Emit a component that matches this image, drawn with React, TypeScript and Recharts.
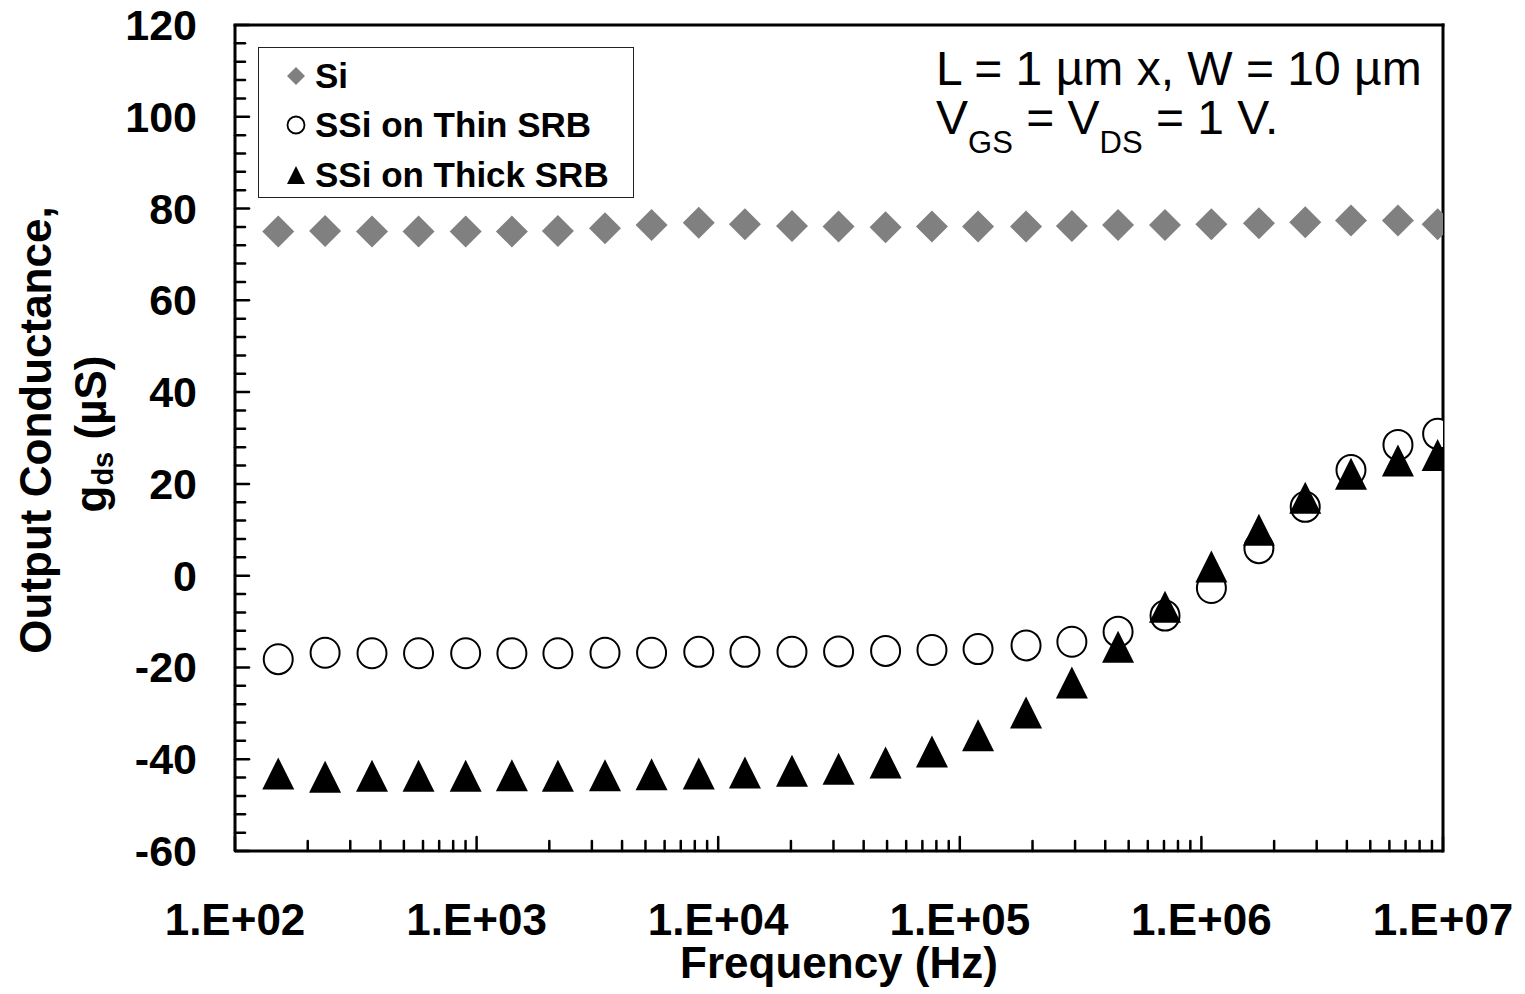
import React from 'react';
import { ScatterChart, Scatter, XAxis, YAxis, ReferenceLine, Legend } from 'recharts';

// frequency sweep (Hz)
const freqHz = [
    151, 236, 369, 575, 901, 1400, 2170, 3400, 5300, 8310, 12900, 20200, 31500,
    49300, 76700, 119000, 188000, 291000, 452000, 707000, 1100000, 1730000,
    2690000, 4160000, 6510000, 9500000,
];

// output conductance gds (uS)
const siGds = [
    75.0, 75.1, 75.0, 75.0, 75.0, 75.0, 75.1, 75.7, 76.4, 76.9, 76.6, 76.2, 76.1,
    75.9, 76.1, 76.1, 76.1, 76.2, 76.4, 76.4, 76.6, 76.8, 77.0, 77.4, 77.4, 76.6,
];
const thinSrbGds = [
    -18.2, -16.8, -16.9, -16.9, -16.9, -16.9, -16.9, -16.8, -16.8, -16.6, -16.6, -16.6, -16.5,
    -16.4, -16.2, -16.0, -15.2, -14.4, -12.2, -8.7, -2.7, 6.0, 15.0, 23.0, 28.5, 30.9,
];
const thickSrbGds = [
    -43.1, -43.8, -43.6, -43.6, -43.6, -43.5, -43.6, -43.5, -43.3, -43.1, -42.9, -42.5, -42.1,
    -40.7, -38.3, -34.8, -29.8, -23.3, -15.5, -6.8, 2.0, 10.0, 17.0, 22.2, 25.1, 26.3,
];

const seriesNames = ['Si', 'SSi on Thin SRB', 'SSi on Thick SRB'];

// axis ticks
const xDecades = [100, 1000, 10000, 100000, 1000000, 10000000];
const xMinorSteps = [2, 3, 4, 5, 6, 7, 8, 9];
const yMajorTicks = [-60, -40, -20, 0, 20, 40, 60, 80, 100, 120];
const yMinorStep = 4;

const xTicks: number[] = [];
xDecades.forEach((d, i) => {
    xTicks.push(d);
    if (i < xDecades.length - 1) xMinorSteps.forEach((m) => xTicks.push(d * m));
});
const yTicks: number[] = [];
for (let v = yMajorTicks[0]; v <= yMajorTicks[yMajorTicks.length - 1]; v += yMinorStep) yTicks.push(v);

const toPoints = (vals: number[]) => freqHz.map((f, i) => ({ f, g: vals[i] }));
const siData = toPoints(siGds);
const thinData = toPoints(thinSrbGds);
const thickData = toPoints(thickSrbGds);

const FONT = '"Liberation Sans", Arial, Helvetica, sans-serif';
const GRAY = '#808080';

const Diamond = ({ cx, cy }: any) => (
    <path d={`M${cx},${cy - 16}L${cx + 16},${cy}L${cx},${cy + 16}L${cx - 16},${cy}Z`} fill={GRAY} />
);
const Ring = ({ cx, cy }: any) => (
    <ellipse cx={cx} cy={cy} rx={14.5} ry={15} fill="#fff" stroke="#000" strokeWidth={2} />
);
const Triangle = ({ cx, cy }: any) => (
    <path d={`M${cx},${cy - 16}L${cx + 16},${cy + 16}L${cx - 16},${cy + 16}Z`} fill="#000" />
);

const isDecade = (v: number) => Math.abs(Math.log10(v) - Math.round(Math.log10(v))) < 1e-9;

const XTick = ({ x, y, payload }: any) => {
    const major = isDecade(payload.value);
    return (
        <g>
            <line x1={x} x2={x} y1={y} y2={y - (major ? 14 : 10)} stroke="#000" strokeWidth={2.5} strokeLinecap="round" />
            {major && (
                <text x={x} y={y + 84} textAnchor="middle" fontFamily={FONT} fontWeight="bold" fontSize={44} fill="#000">
                    {`1.E+${String(Math.round(Math.log10(payload.value))).padStart(2, '0')}`}
                </text>
            )}
        </g>
    );
};

const YTick = ({ x, y, payload }: any) => {
    const major = payload.value % 20 === 0;
    return (
        <g>
            <line x1={x} x2={x + (major ? 14 : 10)} y1={y} y2={y} stroke="#000" strokeWidth={2.5} strokeLinecap="round" />
            {major && (
                <text x={x - 38} y={y + 15} textAnchor="end" fontFamily={FONT} fontWeight="bold" fontSize={43} fill="#000">
                    {payload.value}
                </text>
            )}
        </g>
    );
};

const XTitle = ({ viewBox }: any) => (
    <text x={viewBox.x + viewBox.width / 2} y={viewBox.y + 127} textAnchor="middle" fontFamily={FONT} fontWeight="bold" fontSize={44} fill="#000">
        Frequency (Hz)
    </text>
);

const YTitle = () => (
    <g fontFamily={FONT} fontWeight="bold" fill="#000">
        <text transform="translate(51,430) rotate(-90)" textAnchor="middle" fontSize={44}>
            Output Conductance,
        </text>
        <text transform="translate(106,434) rotate(-90)" textAnchor="middle" fontSize={44}>
            g<tspan fontSize={29} dy={7}>ds</tspan>
            <tspan dy={-7}> (µS)</tspan>
        </text>
    </g>
);

const legendMarks = [
    <path key="d" d="M10,1L19,10L10,19L1,10Z" fill={GRAY} />,
    <circle key="c" cx={10} cy={10} r={8.5} fill="#fff" stroke="#000" strokeWidth={1.8} />,
    <path key="t" d="M10,1L19,19L1,19Z" fill="#000" />,
];

const LegendBox = () => (
    <div
        style={{
            width: 376,
            height: 151,
            border: '1.5px solid #222',
            background: '#fff',
            boxSizing: 'border-box',
            paddingTop: 3,
            fontFamily: FONT,
            fontWeight: 'bold',
            fontSize: 35,
        }}
    >
        {seriesNames.map((name, i) => (
            <div key={name} style={{ display: 'flex', alignItems: 'center', height: 49.5, paddingLeft: 27 }}>
                <svg width={20} height={20} style={{ marginRight: 9 }}>
                    {legendMarks[i]}
                </svg>
                <span>{name}</span>
            </div>
        ))}
    </div>
);

export default function App() {
    return (
        <div style={{ position: 'absolute', left: 0, top: 0, width: 1525, height: 994, background: '#fff' }}>
            <ScatterChart width={1525} height={994} margin={{ top: 25, right: 82, bottom: 83, left: 175 }}>
                <XAxis
                    dataKey="f"
                    type="number"
                    scale="log"
                    domain={[100, 10000000]}
                    ticks={xTicks}
                    interval={0}
                    allowDataOverflow
                    height={60}
                    tickSize={0}
                    tickMargin={0}
                    tickLine={false}
                    axisLine={{ stroke: '#000', strokeWidth: 3 }}
                    tick={(p: any) => <XTick {...p} />}
                    label={(p: any) => <XTitle {...p} />}
                />
                <YAxis
                    dataKey="g"
                    type="number"
                    domain={[-60, 120]}
                    ticks={yTicks}
                    interval={0}
                    allowDataOverflow
                    width={60}
                    tickSize={0}
                    tickMargin={0}
                    tickLine={false}
                    axisLine={{ stroke: '#000', strokeWidth: 3 }}
                    tick={(p: any) => <YTick {...p} />}
                    label={() => <YTitle />}
                />
                <Legend
                    layout="vertical"
                    align="center"
                    verticalAlign="middle"
                    wrapperStyle={{ left: 258, top: 47, width: 376, height: 151 }}
                    content={() => <LegendBox />}
                />
                <Scatter name={seriesNames[0]} data={siData} shape={(p: any) => <Diamond {...p} />} isAnimationActive={false} />
                <Scatter name={seriesNames[1]} data={thinData} shape={(p: any) => <Ring {...p} />} isAnimationActive={false} />
                <Scatter name={seriesNames[2]} data={thickData} shape={(p: any) => <Triangle {...p} />} isAnimationActive={false} />
                <ReferenceLine y={120} stroke="#000" strokeWidth={3} strokeLinecap="square" />
                <ReferenceLine x={10000000} stroke="#000" strokeWidth={3} strokeLinecap="square" />
            </ScatterChart>
            <svg
                width={600}
                height={170}
                style={{ position: 'absolute', left: 900, top: 0, pointerEvents: 'none' }}
                fontFamily={FONT}
                fill="#000"
            >
                <text x={36} y={85} fontSize={48}>
                    L = 1 µm x, W = 10 µm
                </text>
                <text x={36} y={134} fontSize={48}>
                    V<tspan fontSize={31} dy={19}>GS</tspan>
                    <tspan dy={-19}> = V</tspan>
                    <tspan fontSize={31} dy={19}>DS</tspan>
                    <tspan dy={-19}> = 1 V.</tspan>
                </text>
            </svg>
        </div>
    );
}
